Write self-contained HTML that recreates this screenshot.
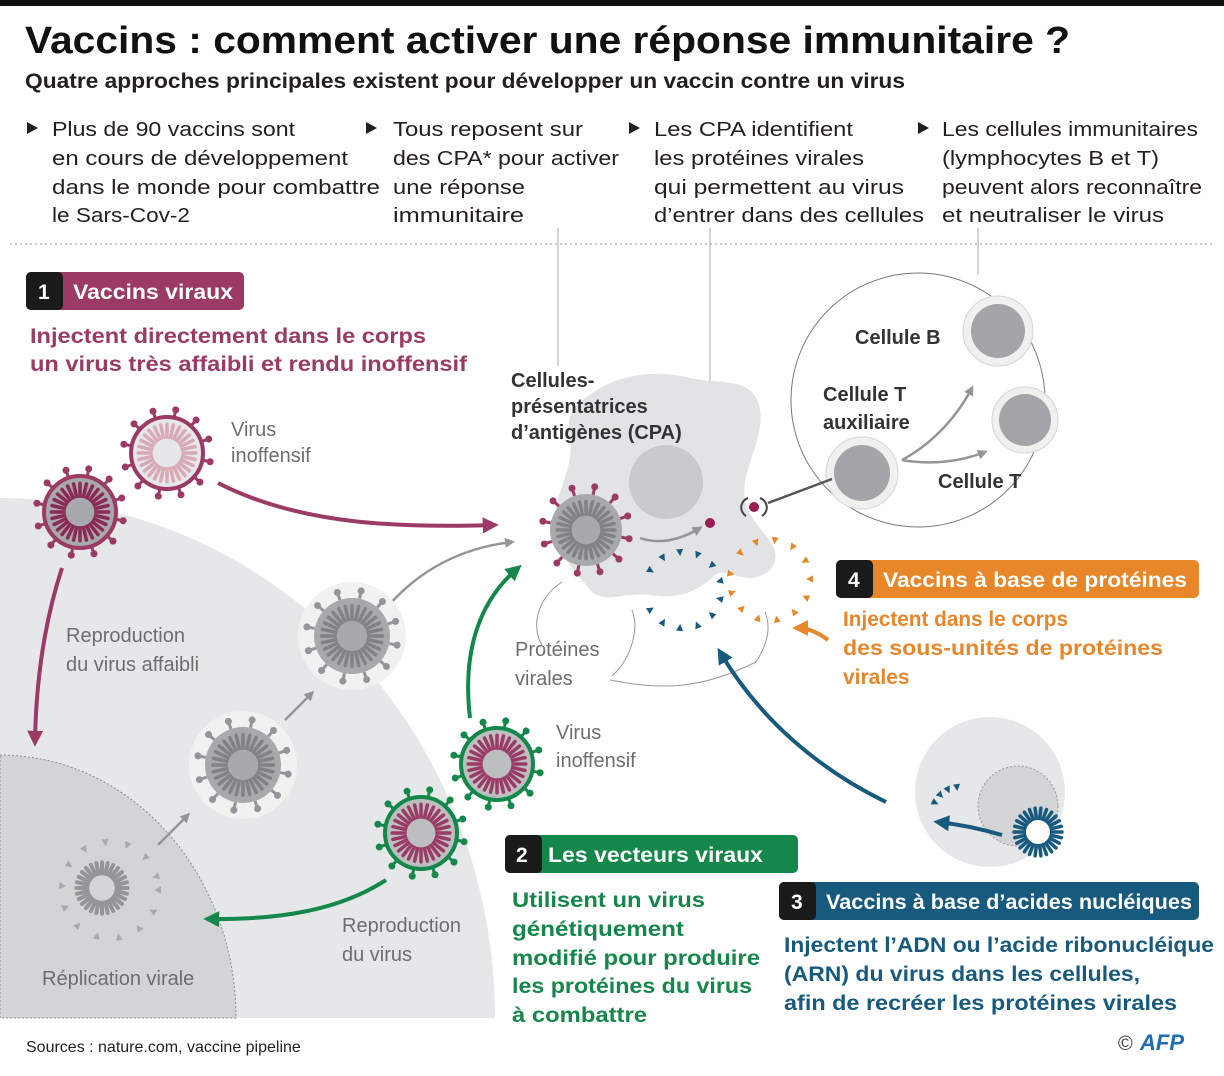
<!DOCTYPE html>
<html><head><meta charset="utf-8"><style>
html,body{margin:0;padding:0;background:#fff;width:1224px;height:1076px;overflow:hidden;}
svg{display:block;font-family:"Liberation Sans",sans-serif;}
.b{font-weight:bold;}
.bul{font-size:20px;fill:#231f20;}
.g{font-size:20px;fill:#6d6e71;}
</style></head><body>
<svg id="s" width="1224" height="1076" viewBox="0 0 1224 1076" xmlns="http://www.w3.org/2000/svg">
<defs>
<marker id="mp" viewBox="0 0 10 10" refX="7" refY="5" markerWidth="4" markerHeight="4" orient="auto"><path d="M0,0L10,5L0,10z" fill="#9b3a64"/></marker>
<marker id="mg" viewBox="0 0 10 10" refX="7" refY="5" markerWidth="4" markerHeight="4" orient="auto"><path d="M0,0L10,5L0,10z" fill="#939598"/></marker>
<marker id="mgr" viewBox="0 0 10 10" refX="7" refY="5" markerWidth="4" markerHeight="4" orient="auto"><path d="M0,0L10,5L0,10z" fill="#14874a"/></marker>
<marker id="mb" viewBox="0 0 10 10" refX="7" refY="5" markerWidth="4" markerHeight="4" orient="auto"><path d="M0,0L10,5L0,10z" fill="#175a7e"/></marker>
<marker id="mo" viewBox="0 0 10 10" refX="7" refY="5" markerWidth="4" markerHeight="4" orient="auto"><path d="M0,0L10,5L0,10z" fill="#e8862a"/></marker>
</defs>
<rect x="0" y="0" width="1224" height="6" fill="#111"/>
<text x="25" y="53" class="b" font-size="38" fill="#111" textLength="1045" lengthAdjust="spacingAndGlyphs">Vaccins : comment activer une réponse immunitaire ?</text>
<text x="25" y="88" class="b" font-size="21" fill="#231f20" textLength="880" lengthAdjust="spacingAndGlyphs">Quatre approches principales existent pour développer un vaccin contre un virus</text>

<g class="bul">
<path d="M27,122l11,6l-11,6z M366,122l11,6l-11,6z M629,122l11,6l-11,6z M918,122l11,6l-11,6z" fill="#231f20"/>
<text x="52" y="136" textLength="243" lengthAdjust="spacingAndGlyphs">Plus de 90 vaccins sont</text>
<text x="52" y="165" textLength="296" lengthAdjust="spacingAndGlyphs">en cours de développement</text>
<text x="52" y="194" textLength="328" lengthAdjust="spacingAndGlyphs">dans le monde pour combattre</text>
<text x="52" y="222" textLength="138" lengthAdjust="spacingAndGlyphs">le Sars-Cov-2</text>
<text x="393" y="136" textLength="190" lengthAdjust="spacingAndGlyphs">Tous reposent sur</text>
<text x="393" y="165" textLength="226" lengthAdjust="spacingAndGlyphs">des CPA* pour activer</text>
<text x="393" y="194" textLength="132" lengthAdjust="spacingAndGlyphs">une réponse</text>
<text x="393" y="222" textLength="131" lengthAdjust="spacingAndGlyphs">immunitaire</text>
<text x="654" y="136" textLength="199" lengthAdjust="spacingAndGlyphs">Les CPA identifient</text>
<text x="654" y="165" textLength="210" lengthAdjust="spacingAndGlyphs">les protéines virales</text>
<text x="654" y="194" textLength="250" lengthAdjust="spacingAndGlyphs">qui permettent au virus</text>
<text x="654" y="222" textLength="270" lengthAdjust="spacingAndGlyphs">d’entrer dans des cellules</text>
<text x="942" y="136" textLength="256" lengthAdjust="spacingAndGlyphs">Les cellules immunitaires</text>
<text x="942" y="165" textLength="217" lengthAdjust="spacingAndGlyphs">(lymphocytes B et T)</text>
<text x="942" y="194" textLength="260" lengthAdjust="spacingAndGlyphs">peuvent alors reconnaître</text>
<text x="942" y="222" textLength="222" lengthAdjust="spacingAndGlyphs">et neutraliser le virus</text>
</g>
<line x1="10" y1="244" x2="1214" y2="244" stroke="#a7a9ac" stroke-width="1.3" stroke-dasharray="2,3"/>
<line x1="558" y1="228" x2="558" y2="366" stroke="#a7a9ac" stroke-width="1"/>
<line x1="710" y1="228" x2="710" y2="518" stroke="#a7a9ac" stroke-width="1"/>
<line x1="978" y1="228" x2="978" y2="275" stroke="#a7a9ac" stroke-width="1"/>

<ellipse cx="0" cy="1018" rx="495" ry="520" fill="#e6e7e8"/>
<rect x="0" y="1018" width="500" height="58" fill="#fff"/>
<path d="M0,755 A236,263 0 0 1 236,1018 L0,1018z" fill="#d3d4d6" stroke="#8a8c8e" stroke-width="1" stroke-dasharray="2,2"/>

<rect x="26" y="272" width="218" height="38" rx="5" fill="#9b3a64"/>
<rect x="26" y="272" width="37" height="38" rx="5" fill="#1a1a1a"/>
<text x="38" y="299" class="b" font-size="21" fill="#fff">1</text>
<text x="73" y="299" class="b" font-size="21" fill="#fff" textLength="160" lengthAdjust="spacingAndGlyphs">Vaccins viraux</text>
<text x="30" y="343" class="b" font-size="21" fill="#9b3a64" textLength="396" lengthAdjust="spacingAndGlyphs">Injectent directement dans le corps</text>
<text x="30" y="371" class="b" font-size="21" fill="#9b3a64" textLength="437" lengthAdjust="spacingAndGlyphs">un virus très affaibli et rendu inoffensif</text>

<text x="231" y="436" class="g" font-size="21">Virus</text>
<text x="231" y="462" class="g" font-size="21">inoffensif</text>
<text x="66" y="642" class="g" font-size="21">Reproduction</text>
<text x="66" y="671" class="g" font-size="21">du virus affaibli</text>
<text x="42" y="985" class="g" font-size="21">Réplication virale</text>
<text x="556" y="739" class="g" font-size="21">Virus</text>
<text x="556" y="767" class="g" font-size="21">inoffensif</text>
<text x="342" y="932" class="g" font-size="21">Reproduction</text>
<text x="342" y="961" class="g" font-size="21">du virus</text>
<text x="515" y="656" class="g" font-size="21">Protéines</text>
<text x="515" y="685" class="g" font-size="21">virales</text>

<path d="M590,395 C620,372 660,370 690,378 C720,385 755,375 760,410 C765,440 740,470 745,500 C750,530 790,545 770,570 C745,590 730,565 715,575 C700,590 680,600 650,595 C620,592 605,605 590,590 C575,570 560,560 555,530 C550,500 575,470 570,440 C565,420 572,405 590,395z" fill="#e2e3e4"/>
<circle cx="666" cy="482" r="37" fill="#c9cacc"/>
<text x="511" y="387" class="b" font-size="20" fill="#333">Cellules-</text>
<text x="511" y="413" class="b" font-size="20" fill="#333">présentatrices</text>
<text x="511" y="439" class="b" font-size="20" fill="#333">d’antigènes (CPA)</text>

<circle cx="918" cy="400" r="127" fill="#fff" stroke="#777" stroke-width="1"/>
<text x="855" y="344" class="b" font-size="20" fill="#333">Cellule B</text>
<text x="823" y="401" class="b" font-size="20" fill="#333">Cellule T</text>
<text x="823" y="429" class="b" font-size="20" fill="#333">auxiliaire</text>
<text x="938" y="488" class="b" font-size="20" fill="#333">Cellule T</text>
<g fill="#f0f0f1" stroke="#d5d5d5" stroke-width="1">
<circle cx="998" cy="331" r="35"/><circle cx="1025" cy="420" r="33"/><circle cx="862" cy="473" r="36"/></g>
<g fill="#a3a5a8"><circle cx="998" cy="331" r="27"/><circle cx="1025" cy="420" r="26"/><circle cx="862" cy="473" r="28"/></g>
<path d="M902,460 C930,445 955,420 972,388" stroke="#939598" stroke-width="2.5" fill="none" marker-end="url(#mg)"/>
<path d="M902,460 C930,465 960,462 985,452" stroke="#939598" stroke-width="2.5" fill="none" marker-end="url(#mg)"/>
<line x1="832" y1="479" x2="768" y2="503" stroke="#555" stroke-width="2.5"/>
<circle cx="710" cy="523" r="5" fill="#9b1b55"/>
<circle cx="754" cy="507" r="5" fill="#9b1b55"/>
<path d="M748,498 a10,10 0 0 0 -2,18 M760,498 a10,10 0 0 1 2,18" stroke="#444" stroke-width="2" fill="none"/>
<path d="M640,538 C660,545 680,540 700,528" stroke="#939598" stroke-width="2.5" fill="none" marker-end="url(#mg)"/>

<path d="M562,582 C535,600 530,630 545,650" stroke="#999" fill="none"/>
<path d="M612,676 C630,660 640,630 632,610 M610,680 C660,690 700,690 756,662 C770,640 770,625 765,612" stroke="#999" fill="none"/>

<path d="M218,483 C300,525 400,528 494,525" stroke="#9b3a64" stroke-width="4" fill="none" marker-end="url(#mp)"/>
<path d="M62,568 C45,620 36,680 35,742" stroke="#9b3a64" stroke-width="4" fill="none" marker-end="url(#mp)"/>
<path d="M388,606 C420,570 460,548 512,542" stroke="#939598" stroke-width="2.5" fill="none" marker-end="url(#mg)"/>
<line x1="285" y1="720" x2="312" y2="693" stroke="#939598" stroke-width="2.5" marker-end="url(#mg)"/>
<line x1="158" y1="845" x2="188" y2="815" stroke="#939598" stroke-width="2.5" marker-end="url(#mg)"/>
<path d="M470,718 C462,650 480,600 518,568" stroke="#14874a" stroke-width="4" fill="none" marker-end="url(#mgr)"/>
<path d="M386,880 C340,910 280,920 208,919" stroke="#14874a" stroke-width="4" fill="none" marker-end="url(#mgr)"/>
<path d="M886,802 C820,770 760,720 720,652" stroke="#175a7e" stroke-width="4" fill="none" marker-end="url(#mb)"/>
<path d="M828,640 C815,630 805,628 797,628" stroke="#e8862a" stroke-width="4" fill="none" marker-end="url(#mo)"/>

<rect x="836" y="560" width="363" height="38" rx="5" fill="#e8862a"/>
<rect x="836" y="560" width="37" height="38" rx="5" fill="#1a1a1a"/>
<text x="848" y="587" class="b" font-size="21" fill="#fff">4</text>
<text x="883" y="587" class="b" font-size="21" fill="#fff" textLength="304" lengthAdjust="spacingAndGlyphs">Vaccins à base de protéines</text>
<text x="843" y="626" class="b" font-size="21" fill="#e8862a" textLength="225" lengthAdjust="spacingAndGlyphs">Injectent dans le corps</text>
<text x="843" y="655" class="b" font-size="21" fill="#e8862a" textLength="320" lengthAdjust="spacingAndGlyphs">des sous-unités de protéines</text>
<text x="843" y="684" class="b" font-size="21" fill="#e8862a">virales</text>

<circle cx="990" cy="792" r="75" fill="#e6e7e8"/>
<circle cx="1018" cy="806" r="40" fill="#d3d4d6" stroke="#999" stroke-dasharray="2,2"/>
<path d="M1002,835 C985,830 965,825 938,822" stroke="#175a7e" stroke-width="4" fill="none" marker-end="url(#mb)"/>
<rect x="779" y="882" width="420" height="38" rx="5" fill="#175a7e"/>
<rect x="779" y="882" width="37" height="38" rx="5" fill="#1a1a1a"/>
<text x="791" y="909" class="b" font-size="21" fill="#fff">3</text>
<text x="826" y="909" class="b" font-size="21" fill="#fff" textLength="366" lengthAdjust="spacingAndGlyphs">Vaccins à base d’acides nucléiques</text>
<text x="784" y="952" class="b" font-size="21" fill="#175a7e" textLength="430" lengthAdjust="spacingAndGlyphs">Injectent l’ADN ou l’acide ribonucléique</text>
<text x="784" y="981" class="b" font-size="21" fill="#175a7e" textLength="356" lengthAdjust="spacingAndGlyphs">(ARN) du virus dans les cellules,</text>
<text x="784" y="1010" class="b" font-size="21" fill="#175a7e" textLength="393" lengthAdjust="spacingAndGlyphs">afin de recréer les protéines virales</text>

<rect x="505" y="835" width="293" height="38" rx="5" fill="#14874a"/>
<rect x="505" y="835" width="37" height="38" rx="5" fill="#1a1a1a"/>
<text x="516" y="862" class="b" font-size="21" fill="#fff">2</text>
<text x="548" y="862" class="b" font-size="21" fill="#fff" textLength="215" lengthAdjust="spacingAndGlyphs">Les vecteurs viraux</text>
<g class="b" font-size="21" fill="#14874a">
<text x="512" y="907" textLength="193" lengthAdjust="spacingAndGlyphs">Utilisent un virus</text>
<text x="512" y="936" textLength="172" lengthAdjust="spacingAndGlyphs">génétiquement</text>
<text x="512" y="965" textLength="248" lengthAdjust="spacingAndGlyphs">modifié pour produire</text>
<text x="512" y="993" textLength="240" lengthAdjust="spacingAndGlyphs">les protéines du virus</text>
<text x="512" y="1022" textLength="135" lengthAdjust="spacingAndGlyphs">à combattre</text>
</g>

<text x="26" y="1052" font-size="16" fill="#231f20">Sources : nature.com, vaccine pipeline</text>
<text x="1118" y="1050" font-size="20" fill="#444">©</text>
<text x="1140" y="1050" class="b" font-style="italic" font-size="22" fill="#1e6db5">AFP</text>
<g id="vir"></g>
</svg>
<script>
var NS="http://www.w3.org/2000/svg",g=document.getElementById("vir");
function el(t,a){var e=document.createElementNS(NS,t);for(var k in a)e.setAttribute(k,a[k]);g.appendChild(e);return e;}
function virus(cx,cy,r,o){
 if(o.halo)el("circle",{cx:cx,cy:cy,r:r+16,fill:"#f1f1f2"});
 var n=o.sp||12;
 if(o.spike)for(var i=0;i<n;i++){var a=i*2*Math.PI/n+0.2,x1=cx+Math.cos(a)*r,y1=cy+Math.sin(a)*r,x2=cx+Math.cos(a)*(r+8),y2=cy+Math.sin(a)*(r+8);
  el("line",{x1:x1,y1:y1,x2:x2,y2:y2,stroke:o.spike,"stroke-width":3});
  el("circle",{cx:x2,cy:y2,r:3.5,fill:o.spike});}
 if(o.body)el("circle",{cx:cx,cy:cy,r:r,fill:o.body,stroke:o.ring||"none","stroke-width":o.ring?4:0});
 var m=o.rn||28;
 for(var j=0;j<m;j++){var b=j*2*Math.PI/m;el("line",{x1:cx+Math.cos(b)*r*0.42,y1:cy+Math.sin(b)*r*0.42,x2:cx+Math.cos(b)*r*0.8,y2:cy+Math.sin(b)*r*0.8,stroke:o.rib,"stroke-width":o.rw||3.5,"stroke-linecap":"round"});}
 if(o.core)el("circle",{cx:cx,cy:cy,r:r*0.4,fill:o.core});
}
virus(80,512,36,{spike:"#9b3a64",body:"#a7a9ac",ring:"#9b3a64",rib:"#8a2a55",core:"#a7a9ac"});
virus(167,453,36,{spike:"#9b3a64",body:"#e6e7e8",ring:"#9b3a64",rib:"#d9a9b6",core:"#e6e7e8"});
virus(352,636,38,{halo:1,spike:"#939598",body:"#a7a9ac",rib:"#808285",core:"#a7a9ac"});
virus(243,765,38,{halo:1,spike:"#939598",body:"#a7a9ac",rib:"#808285",core:"#a7a9ac"});
virus(497,764,36,{spike:"#14874a",body:"#bcbec0",ring:"#14874a",rib:"#9b3a64",core:"#bcbec0"});
virus(421,833,36,{spike:"#14874a",body:"#bcbec0",ring:"#14874a",rib:"#9b3a64",core:"#bcbec0"});
virus(586,530,36,{spike:"#9b3a64",body:"#a7a9ac",rib:"#808285",core:"#a7a9ac"});
virus(102,888,32,{rib:"#939598",rw:4,core:"#d3d4d6"});
virus(1038,832,30,{rib:"#175a7e",rw:3.5,core:"#fff",rn:26});
function tri(cx,cy,r,n,c,a0,a1){for(var i=0;i<n;i++){var a=a0+(a1-a0)*i/(n-1),x=cx+Math.cos(a)*r,y=cy+Math.sin(a)*r;
 el("path",{d:"M"+(x-3.5)+","+(y-3)+"l7,0l-3.5,7z",fill:c,transform:"rotate("+(a*180/Math.PI+90)+" "+x+" "+y+")"});}}
tri(683,590,38,12,"#175a7e",-2.6,2.6);
tri(770,580,40,13,"#e8862a",-2.4,3.3);
tri(110,890,48,14,"#a7a9ac",0,6);
tri(960,815,28,4,"#175a7e",3.6,4.6);
</script>
</body></html>
